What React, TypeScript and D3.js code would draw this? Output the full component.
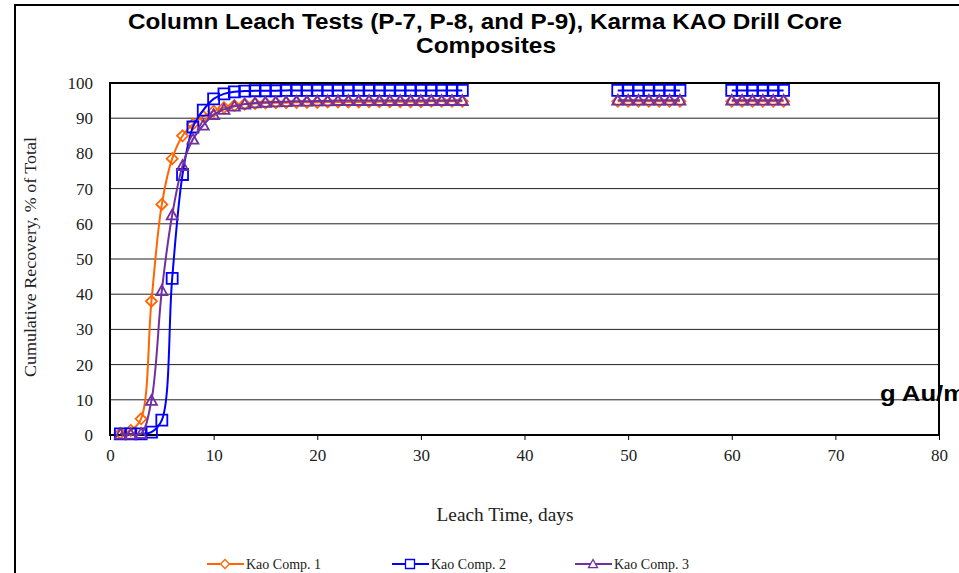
import React, { useEffect, useRef } from "react";
import * as d3 from "d3";

// leach days (three groups, no line between groups)
const days1 = [1, 2, 3, 4, 5, 6, 7, 8, 9, 10, 11, 12, 13, 14, 15, 16, 17, 18, 19, 20, 21, 22, 23, 24, 25, 26, 27, 28, 29, 30, 31, 32, 33, 34];
const days2 = [49, 50, 51, 52, 53, 54, 55];
const days3 = [60, 61, 62, 63, 64, 65];

const comp1 = [
  0.5, 1.3, 4.6, 38, 65.5, 78.5, 85, 88.3, 90.5, 92, 93, 93.6, 94, 94.2, 94.3, 94.4, 94.4,
  94.5, 94.5, 94.5, 94.6, 94.6, 94.6, 94.6, 94.7, 94.7, 94.7, 94.7, 94.7, 94.7, 94.8, 94.8, 94.8, 94.8,
  94.8, 94.8, 94.8, 94.8, 94.8, 94.8, 94.8,
  94.8, 94.8, 94.8, 94.8, 94.8, 94.8,
];
const comp2 = [
  0.3, 0.3, 0.3, 0.8, 4.2, 44.5, 74, 87.5, 92.3, 95.5, 96.9, 97.5, 97.7, 97.8, 97.8, 97.8, 97.9,
  97.9, 97.9, 97.9, 97.9, 97.9, 97.9, 97.9, 97.9, 97.9, 97.9, 97.9, 97.9, 97.9, 97.9, 97.9, 97.9, 97.9,
  97.9, 97.9, 97.9, 97.9, 97.9, 97.9, 97.9,
  97.9, 97.9, 97.9, 97.9, 97.9, 97.9,
];
const comp3 = [
  0.2, 0.2, 0.4, 9.8, 41, 62.5, 76.5, 84, 88, 91, 92.5, 93.4, 94, 94.3, 94.5, 94.6, 94.7,
  94.8, 94.8, 94.9, 94.9, 95, 95, 95, 95, 95, 95, 95, 95, 95, 95, 95, 95, 95,
  95.1, 95.1, 95.1, 95.1, 95.1, 95.1, 95.1,
  95.1, 95.1, 95.1, 95.1, 95.1, 95.1,
];

const seriesNames = ["Kao Comp. 1", "Kao Comp. 2", "Kao Comp. 3"];
const seriesColors = ["#ff6600", "#0000ff", "#7030a0"];
const seriesMarkers = ["diamond", "square", "triangle"];

const xTicks = [0, 10, 20, 30, 40, 50, 60, 70, 80];
const yTicks = [0, 10, 20, 30, 40, 50, 60, 70, 80, 90, 100];

const W = 959;
const H = 573;
const serif = "Liberation Serif, Times New Roman, serif";
const sans = "Liberation Sans, Arial, sans-serif";

function markerPath(kind: string, s: number) {
  if (kind === "diamond") return `M0,${-s}L${s},0L0,${s}L${-s},0Z`;
  if (kind === "square") return `M${-s},${-s}H${s}V${s}H${-s}Z`;
  return `M0,${-s}L${s},${s * 0.8}L${-s},${s * 0.8}Z`;
}

export default function App() {
  const ref = useRef<SVGSVGElement>(null);

  useEffect(() => {
    const svg = d3.select(ref.current);
    svg.selectAll("*").remove();

    const x = d3.scaleLinear().domain([0, 80]).range([110, 939]);
    const y = d3.scaleLinear().domain([0, 100]).range([435, 83]);

    // outer frame
    svg.append("rect").attr("x", 15).attr("y", 5).attr("width", 1000).attr("height", 700)
      .attr("fill", "white").attr("stroke", "black").attr("stroke-width", 2);

    // title
    const title = svg.append("text").attr("text-anchor", "middle")
      .attr("font-family", sans).attr("font-weight", "bold").attr("font-size", 22);
    title.append("tspan").attr("x", 485).attr("y", 29)
      .attr("textLength", 714).attr("lengthAdjust", "spacingAndGlyphs")
      .text("Column Leach Tests (P-7, P-8, and P-9), Karma KAO Drill Core");
    title.append("tspan").attr("x", 486).attr("y", 53)
      .attr("textLength", 140).attr("lengthAdjust", "spacingAndGlyphs")
      .text("Composites");

    // grid
    svg.append("g").selectAll("line").data(yTicks.slice(1, -1)).join("line")
      .attr("x1", x(0)).attr("x2", x(80)).attr("y1", (d) => y(d)).attr("y2", (d) => y(d))
      .attr("stroke", "#222").attr("stroke-width", 1);

    // plot frame
    svg.append("rect").attr("x", x(0)).attr("y", y(100)).attr("width", x(80) - x(0))
      .attr("height", y(0) - y(100)).attr("fill", "none").attr("stroke", "black").attr("stroke-width", 2);

    // axes
    const gx = svg.append("g").attr("transform", `translate(0,${y(0)})`)
      .call(d3.axisBottom(x).tickValues(xTicks).tickSize(5).tickPadding(9));
    gx.select(".domain").remove();
    gx.selectAll("text").attr("font-family", serif).attr("font-size", 17).attr("fill", "#222");

    const gy = svg.append("g").attr("transform", `translate(${x(0)},0)`)
      .call(d3.axisLeft(y).tickValues(yTicks).tickSize(0).tickPadding(17));
    gy.select(".domain").remove();
    gy.selectAll("text").attr("font-family", serif).attr("font-size", 17).attr("fill", "#222");

    // axis titles
    svg.append("text").attr("x", 505).attr("y", 521).attr("text-anchor", "middle")
      .attr("font-family", serif).attr("font-size", 18).attr("fill", "#222")
      .attr("textLength", 137).attr("lengthAdjust", "spacingAndGlyphs")
      .text("Leach Time, days");
    svg.append("text").attr("transform", "translate(36,257) rotate(-90)").attr("text-anchor", "middle")
      .attr("font-family", serif).attr("font-size", 17.5).attr("fill", "#222")
      .attr("textLength", 240).attr("lengthAdjust", "spacingAndGlyphs")
      .text("Cumulative Recovery, % of Total");

    const allDays = [...days1, ...days2, ...days3];
    const groups = [days1.length, days2.length, days3.length];
    const seriesData = [comp1, comp2, comp3];
    const line = d3.line<[number, number]>().x((d) => x(d[0])).y((d) => y(d[1]))
      .curve(d3.curveCatmullRom.alpha(0.5));

    seriesData.forEach((vals, i) => {
      const pts: [number, number][] = allDays.map((d, k) => [d, vals[k]]);
      const g = svg.append("g");
      let start = 0;
      groups.forEach((n) => {
        g.append("path").attr("d", line(pts.slice(start, start + n)))
          .attr("fill", "none").attr("stroke", seriesColors[i]).attr("stroke-width", 2);
        start += n;
      });
      g.selectAll("path.mk").data(pts).join("path").attr("class", "mk")
        .attr("transform", (d) => `translate(${x(d[0])},${y(d[1])})`)
        .attr("d", markerPath(seriesMarkers[i], 5.5))
        .attr("fill", "none").attr("stroke", seriesColors[i]).attr("stroke-width", 1.8);
    });

    // stray label
    svg.append("text").attr("x", 880).attr("y", 401)
      .attr("font-family", sans).attr("font-weight", "bold").attr("font-size", 22)
      .attr("textLength", 86).attr("lengthAdjust", "spacingAndGlyphs")
      .text("g Au/m");

    // legend
    const legX = [207, 392, 575];
    const lg = svg.append("g").selectAll("g").data(seriesNames).join("g")
      .attr("transform", (_, i) => `translate(${legX[i]},564)`);
    lg.append("line").attr("x1", 0).attr("x2", 37).attr("stroke", (_, i) => seriesColors[i]).attr("stroke-width", 2);
    lg.append("path").attr("transform", "translate(18,0)")
      .attr("d", (_, i) => markerPath(seriesMarkers[i], 4.5))
      .attr("fill", "white").attr("stroke", (_, i) => seriesColors[i]).attr("stroke-width", 1.3);
    lg.append("text").attr("x", 39).attr("y", 5)
      .attr("font-family", serif).attr("font-size", 14).attr("fill", "#222")
      .text((d) => d);
  }, []);

  return (
    <svg ref={ref} width={W} height={H}
      style={{ position: "absolute", left: 0, top: 0, background: "white" }} />
  );
}
